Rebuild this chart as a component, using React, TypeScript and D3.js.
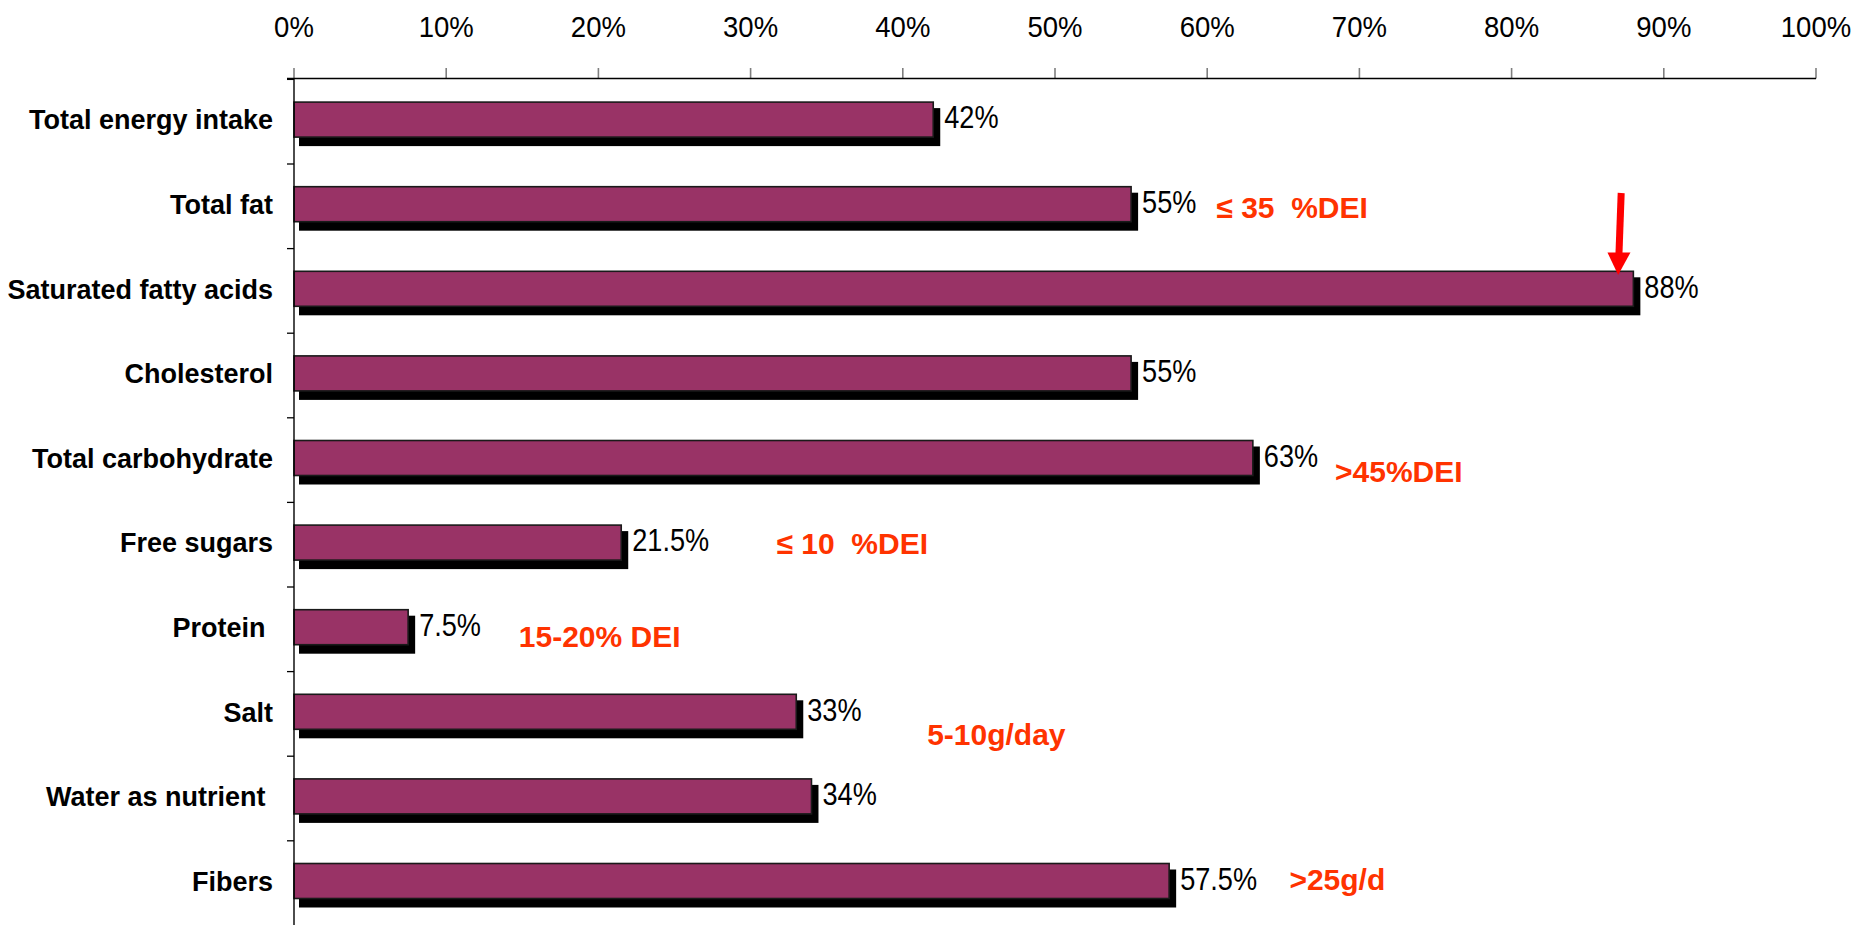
import React from "react";
import * as d3 from "d3";

const categories = [
  "Total energy intake",
  "Total fat",
  "Saturated fatty acids",
  "Cholesterol",
  "Total carbohydrate",
  "Free sugars",
  "Protein ",
  "Salt",
  "Water as nutrient ",
  "Fibers",
];
const values = [0.42, 0.55, 0.88, 0.55, 0.63, 0.215, 0.075, 0.33, 0.34, 0.575];
const valueLabels = ["42%", "55%", "88%", "55%", "63%", "21.5%", "7.5%", "33%", "34%", "57.5%"];
const xTicks = [0, 0.1, 0.2, 0.3, 0.4, 0.5, 0.6, 0.7, 0.8, 0.9, 1.0];

// red guideline annotations: text, row, x position (share of axis), baseline offset inside row
const noteTexts = ["≤ 35  %DEI", ">45%DEI", "≤ 10  %DEI", "15-20% DEI", "5-10g/day", ">25g/d"];
const noteRows = [1, 4, 5, 6, 7, 9];
const noteX = [0.606, 0.684, 0.317, 0.1477, 0.416, 0.654];
const noteDy = [54.3, 64, 51.6, 59.7, 73.4, 49];

const W = 1855;
const H = 925;

export default function App() {
  const x = d3.scaleLinear().domain([0, 1]).range([294, 1816]);
  const y = d3.scaleBand<string>().domain(categories).range([79.4, 925.4]).paddingInner(0).paddingOuter(0);
  const bw = y.bandwidth();
  const barOff = 22.7;
  const barH = 35;
  const axisY = 78.5;
  const fmt = d3.format(".0%");

  // arrow on the saturated fatty acids bar
  const arrowRow = y(categories[2])!;
  const ax0 = x(0.872);
  const ay0 = arrowRow - 55.6;
  const axTip = x(0.87);
  const ayTip = arrowRow + 26.4;
  const headLen = 22.5;
  const headW = 11.5;
  const hx = axTip + (ax0 - axTip) * (headLen / (ayTip - ay0));

  return (
    <svg
      width={W}
      height={H}
      viewBox={`0 0 ${W} ${H}`}
      style={{ position: "absolute", left: 0, top: 0, background: "#fff" }}
    >
      <rect x={0} y={0} width={W} height={H} fill="#fff" />
      {/* top x ticks and labels */}
      {xTicks.map((t) => (
        <g key={t}>
          <line x1={x(t)} x2={x(t)} y1={68} y2={axisY} stroke="#7f7f7f" strokeWidth={1.6} />
          <text
            transform={`translate(${x(t)},37.3) scale(0.95,1)`}
            textAnchor="middle"
            fontFamily="'Liberation Sans', Arial, sans-serif"
            fontSize={29}
            fill="#000"
          >
            {fmt(t)}
          </text>
        </g>
      ))}
      {/* category ticks */}
      {categories.map((c) => (
        <line key={"t" + c} x1={287} x2={x(0)} y1={y(c)!} y2={y(c)!} stroke="#000" strokeWidth={1.3} />
      ))}
      {/* bars */}
      {categories.map((c, i) => {
        const top = y(c)! + barOff;
        const x0 = x(0);
        const x1 = x(values[i]);
        return (
          <g key={"b" + c}>
            <rect x={x0 + 5} y={top + 6} width={x1 - x0 + 2} height={barH + 3} fill="#000" />
            <rect x={x0} y={top} width={x1 - x0} height={barH} fill="#993366" stroke="#1a1a1a" strokeWidth={1.6} />
            <text
              transform={`translate(${x1 + 11},${y(c)! + 49}) scale(0.89,1)`}
              fontFamily="'Liberation Sans', Arial, sans-serif"
              fontSize={30.5}
              fill="#000"
            >
              {valueLabels[i]}
            </text>
            <text
              x={273}
              y={y(c)! + 50}
              textAnchor="end"
              fontFamily="'Liberation Sans', Arial, sans-serif"
              fontWeight="bold"
              fontSize={27}
              fill="#000"
              style={{ whiteSpace: "pre" }}
            >
              {c}
            </text>
          </g>
        );
      })}
      {/* axes */}
      <line x1={287} x2={x(1)} y1={axisY} y2={axisY} stroke="#000" strokeWidth={1.4} />
      <line x1={x(0)} x2={x(0)} y1={axisY} y2={H} stroke="#000" strokeWidth={1.4} />
      {/* annotations */}
      {noteTexts.map((t, i) => (
        <text
          key={"n" + i}
          x={x(noteX[i])}
          y={y(categories[noteRows[i]])! + noteDy[i]}
          fontFamily="'Liberation Sans', Arial, sans-serif"
          fontWeight="bold"
          fontSize={30}
          fill="#ff3300"
          style={{ whiteSpace: "pre" }}
        >
          {t}
        </text>
      ))}
      {/* arrow */}
      <line x1={ax0} y1={ay0} x2={hx} y2={ayTip - headLen + 1} stroke="#ff0000" strokeWidth={7} />
      <polygon
        points={`${hx - headW},${ayTip - headLen} ${hx + headW},${ayTip - headLen} ${axTip},${ayTip}`}
        fill="#ff0000"
      />
    </svg>
  );
}
